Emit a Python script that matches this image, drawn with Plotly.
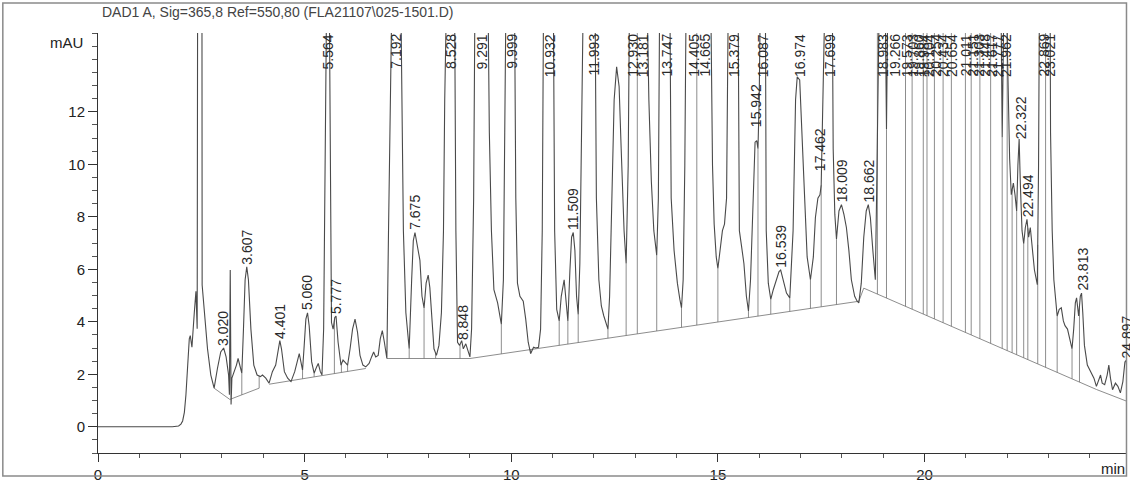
import numpy as np
import plotly.graph_objects as go

# ── Chromatogram values ─────────────────────────────────────────────────────

time_min = [
    0.00, 1.80, 1.95, 2.007, 2.048, 2.09, 2.128, 2.169, 2.209, 2.233,
    2.273, 2.33, 2.37, 2.40, 2.43, 2.475, 2.51, 2.52, 2.57, 2.65,
    2.73, 2.81, 2.89, 2.97, 3.04, 3.10, 3.16, 3.18, 3.20, 3.22,
    3.24, 3.30, 3.35, 3.39, 3.44, 3.48, 3.52, 3.56, 3.60, 3.64,
    3.70, 3.77, 3.85, 3.93, 3.98, 4.06, 4.14, 4.22, 4.30, 4.36,
    4.40, 4.44, 4.51, 4.59, 4.67, 4.76, 4.83, 4.87, 4.91, 4.95,
    4.99, 5.03, 5.07, 5.11, 5.17, 5.23, 5.29, 5.33, 5.38, 5.42,
    5.46, 5.50, 5.54, 5.564, 5.59, 5.62, 5.65, 5.69, 5.73, 5.76,
    5.81, 5.88, 5.93, 5.97, 6.04, 6.10, 6.16, 6.22, 6.28, 6.34,
    6.41, 6.48, 6.56, 6.62, 6.67, 6.72, 6.78, 6.83, 6.88, 6.93,
    6.99, 7.03, 7.06, 7.19, 7.33, 7.35, 7.39, 7.45, 7.53, 7.59,
    7.63, 7.67, 7.73, 7.79, 7.84, 7.89, 7.94, 7.99, 8.03, 8.07,
    8.13, 8.19, 8.25, 8.31, 8.36, 8.39, 8.42, 8.53, 8.63, 8.66,
    8.70, 8.75, 8.80, 8.84, 8.90, 8.94, 9.00, 9.04, 9.09, 9.12,
    9.29, 9.44, 9.47, 9.52, 9.58, 9.67, 9.72, 9.76, 9.81, 9.84,
    9.87, 10.00, 10.08, 10.11, 10.15, 10.21, 10.29, 10.35, 10.41, 10.47,
    10.54, 10.59, 10.66, 10.71, 10.75, 10.78, 10.93, 11.02, 11.05, 11.10,
    11.16, 11.21, 11.28, 11.33, 11.37, 11.42, 11.46, 11.50, 11.54, 11.58,
    11.62, 11.66, 11.70, 11.74, 11.99, 12.03, 12.06, 12.12, 12.18, 12.24,
    12.30, 12.34, 12.38, 12.43, 12.49, 12.55, 12.61, 12.66, 12.73, 12.78,
    12.83, 12.86, 12.93, 13.05, 13.18, 13.29, 13.33, 13.39, 13.45, 13.52,
    13.56, 13.59, 13.75, 13.84, 13.87, 13.94, 14.02, 14.08, 14.12, 14.16,
    14.20, 14.23, 14.40, 14.53, 14.66, 14.83, 14.87, 14.91, 14.96, 15.00,
    15.05, 15.11, 15.16, 15.21, 15.25, 15.38, 15.49, 15.52, 15.57, 15.63,
    15.69, 15.74, 15.79, 15.85, 15.90, 15.94, 15.97, 16.00, 16.03, 16.09,
    16.15, 16.17, 16.22, 16.28, 16.34, 16.42, 16.48, 16.52, 16.58, 16.66,
    16.74, 16.82, 16.88, 16.92, 16.98, 17.04, 17.10, 17.16, 17.24, 17.31,
    17.36, 17.42, 17.47, 17.50, 17.53, 17.70, 17.77, 17.79, 17.83, 17.87,
    17.93, 17.99, 18.05, 18.11, 18.17, 18.23, 18.31, 18.37, 18.41, 18.47,
    18.53, 18.59, 18.64, 18.69, 18.75, 18.81, 18.84, 18.86, 18.98, 19.05,
    19.08, 19.11, 19.20, 21.80, 21.84, 21.88, 21.92, 21.96, 22.01, 22.06,
    22.10, 22.15, 22.19, 22.23, 22.26, 22.29, 22.32, 22.36, 22.40, 22.44,
    22.48, 22.52, 22.56, 22.60, 22.66, 22.73, 22.76, 22.78, 22.87, 22.95,
    23.02, 23.05, 23.09, 23.13, 23.21, 23.26, 23.31, 23.36, 23.40, 23.46,
    23.51, 23.57, 23.61, 23.65, 23.68, 23.71, 23.73, 23.77, 23.80, 23.83,
    23.87, 23.94, 24.02, 24.10, 24.16, 24.22, 24.26, 24.30, 24.36, 24.42,
    24.46, 24.50, 24.55, 24.62, 24.68, 24.74, 24.80, 24.85, 24.88, 24.92,
    24.97,
]

signal_mau = [
    0.00, 0.00, 0.03, 0.10, 0.22, 0.55, 1.22, 2.22, 3.35, 3.47,
    3.03, 4.34, 5.16, 3.73, 40.0, 60.0, 30.0, 5.40, 4.34, 2.97,
    1.97, 1.47, 2.22, 2.85, 3.00, 2.66, 1.97, 1.22, 5.97, 0.85,
    1.85, 2.10, 2.35, 2.60, 2.28, 2.04, 3.72, 5.60, 6.09, 5.60,
    3.72, 2.35, 1.97, 1.91, 1.97, 1.85, 1.66, 2.10, 2.35, 2.97,
    3.28, 2.97, 2.10, 1.85, 1.72, 2.10, 2.60, 2.79, 2.47, 2.16,
    3.10, 4.10, 4.34, 3.85, 2.47, 2.04, 2.28, 2.41, 2.10, 1.97,
    3.72, 9.96, 18.0, 22.0, 18.0, 8.71, 3.97, 3.72, 4.16, 4.22,
    3.22, 2.35, 2.54, 2.47, 2.35, 2.97, 3.72, 4.10, 3.60, 2.72,
    2.35, 2.28, 2.41, 2.66, 2.85, 2.66, 2.72, 3.35, 3.66, 3.22,
    2.60, 7.47, 16.0, 25.0, 16.0, 12.1, 7.47, 4.34, 2.97, 5.60,
    7.09, 7.40, 6.91, 6.34, 4.97, 4.53, 5.47, 5.78, 5.30, 4.22,
    2.97, 2.72, 3.10, 4.34, 7.47, 12.46, 16.0, 25.0, 16.0, 7.47,
    3.22, 3.10, 3.28, 2.97, 3.16, 2.97, 2.66, 3.72, 8.71, 16.0,
    28.0, 16.0, 11.2, 7.47, 5.22, 4.72, 4.22, 3.91, 5.60, 11.2,
    16.0, 25.0, 16.0, 8.71, 5.47, 4.97, 4.78, 4.10, 3.22, 2.79,
    3.03, 3.00, 3.03, 3.72, 7.47, 16.0, 30.0, 16.0, 7.47, 4.47,
    4.03, 4.97, 5.60, 4.72, 4.03, 5.97, 7.22, 7.40, 6.72, 4.97,
    4.28, 6.22, 11.2, 16.0, 25.0, 16.0, 8.71, 5.60, 4.60, 4.22,
    3.91, 3.72, 4.97, 8.71, 12.46, 13.71, 12.96, 10.59, 7.47, 6.22,
    9.96, 16.0, 25.0, 20.0, 25.0, 16.0, 12.46, 9.34, 7.47, 6.53,
    8.71, 16.0, 25.0, 16.0, 8.71, 6.72, 5.47, 4.85, 4.53, 5.60,
    9.96, 16.0, 25.0, 20.0, 25.0, 16.0, 9.96, 7.72, 6.47, 6.03,
    6.72, 7.47, 7.72, 8.71, 16.0, 25.0, 16.0, 7.47, 6.91, 6.22,
    4.97, 4.41, 5.60, 8.71, 10.84, 10.90, 10.59, 12.46, 16.0, 25.0,
    16.0, 7.47, 5.47, 4.85, 5.22, 5.60, 5.91, 5.97, 5.60, 5.09,
    4.91, 7.47, 12.46, 13.33, 13.21, 11.21, 8.71, 6.47, 5.60, 6.47,
    7.97, 8.71, 8.84, 9.20, 16.0, 25.0, 16.0, 10.59, 8.09, 7.15,
    8.22, 8.46, 8.09, 7.59, 6.72, 5.60, 4.97, 4.78, 4.72, 5.47,
    7.22, 8.22, 8.46, 7.97, 6.72, 5.60, 8.71, 16.0, 25.0, 16.0,
    11.34, 16.0, 25.0, 25.0, 16.0, 11.03, 16.0, 20.0, 14.0, 10.21,
    8.84, 9.28, 8.84, 8.22, 9.96, 10.96, 9.21, 7.47, 6.97, 7.59,
    7.90, 7.22, 7.59, 6.97, 5.97, 5.41, 9.96, 16.0, 25.0, 20.0,
    25.0, 11.2, 7.47, 5.60, 4.22, 4.47, 4.53, 4.03, 3.85, 3.72,
    3.35, 2.97, 3.72, 4.72, 4.91, 4.47, 4.22, 4.97, 5.09, 4.34,
    3.10, 2.35, 2.10, 1.85, 1.54, 1.85, 1.97, 1.66, 1.60, 1.97,
    2.35, 1.85, 1.41, 1.66, 1.54, 1.29, 1.72, 2.47, 2.53, 1.72,
    0.97,
]

# integration baselines: start time, start mAU, end time, end mAU
base_t0 = [2.81, 3.19, 4.14, 6.99, 9.00, 18.41, 18.53, 24.16]
base_y0 = [1.47, 1.04, 1.62, 2.60, 2.60, 4.78, 5.28, 1.42]
base_t1 = [3.19, 3.90, 6.48, 9.00, 18.41, 18.53, 24.16, 24.98]
base_y1 = [1.04, 1.47, 2.22, 2.60, 4.78, 5.28, 1.42, 0.92]

# peak split (drop) lines
drop_times = [
    3.48, 3.90, 4.67, 4.95, 5.23, 5.72, 5.89, 6.04, 7.53, 7.89,
    8.17, 8.76, 9.76, 10.47, 11.16, 11.37, 11.62, 12.34, 12.78, 13.05,
    13.52, 14.12, 14.49, 15.00, 15.74, 15.97, 16.28, 16.74, 17.24, 17.50,
    17.87, 18.86, 19.08, 19.54, 19.70, 19.97, 20.06, 20.24, 20.45, 20.65,
    20.99, 21.13, 21.34, 21.60, 21.88, 22.00, 22.12, 22.23, 22.40, 22.50,
    22.74, 22.93, 23.21, 23.57, 23.75,
]

# retention time labels
peak_rt = [
    "3.020", "3.607", "4.401", "5.060", "5.564", "5.777", "7.192", "7.675",
    "8.528", "8.848", "9.291", "9.999", "10.932", "11.509", "11.993",
    "12.930", "13.181", "13.747", "14.405", "14.665", "15.379", "15.942",
    "16.087", "16.539", "16.974", "17.462", "17.699", "18.009", "18.662",
    "18.983", "19.266", "19.573", "19.703", "19.860", "19.984", "20.104",
    "20.254", "20.434", "20.654", "21.011", "21.151", "21.303", "21.448",
    "21.617", "21.777", "21.962", "22.322", "22.494", "22.869", "23.021",
    "23.813", "24.897",
]

Y_TOP = 15
LINE_COL = "#4a4a4a"
THIN_COL = "#707070"

t_arr = np.array(time_min)
s_arr = np.array(signal_mau)


def baseline_at(t):
    for a, ya, b, yb in zip(base_t0, base_y0, base_t1, base_y1):
        if a <= t <= b:
            return ya + (yb - ya) * (t - a) / (b - a)
    return None


# baseline segments and drop lines as single traces
bx, by = [], []
for a, ya, b, yb in zip(base_t0, base_y0, base_t1, base_y1):
    bx += [a, b, None]
    by += [ya, yb, None]
for t in drop_times:
    b = baseline_at(t)
    top = min(float(np.interp(t, t_arr, s_arr)), Y_TOP + 0.5)
    bx += [t, t, None]
    by += [b, top, None]

fig = go.Figure()
fig.add_trace(go.Scatter(x=bx, y=by, mode="lines",
                         line=dict(color=THIN_COL, width=0.8),
                         hoverinfo="skip", showlegend=False))
fig.add_trace(go.Scatter(x=time_min, y=signal_mau, mode="lines",
                         line=dict(color=LINE_COL, width=1.1),
                         showlegend=False))

# rotated RT labels: above apex, or pinned to the top when off-scale
for rt in peak_rt:
    r = float(rt)
    apex = np.interp(np.linspace(r - 0.04, r + 0.04, 17), t_arr, s_arr).max()
    if apex > 13:
        y, anchor = Y_TOP, "top"
    else:
        y, anchor = apex + 0.05, "bottom"
    fig.add_annotation(x=r, y=y, text=rt, showarrow=False, textangle=-90,
                       xanchor="center", yanchor=anchor, borderpad=0,
                       font=dict(size=14, color="#2a2a2a"))

fig.add_annotation(xref="paper", yref="paper", x=0.002, y=1.049,
                   text="DAD1 A, Sig=365,8 Ref=550,80 (FLA21107\\025-1501.D)",
                   showarrow=False, xanchor="left", yanchor="middle",
                   font=dict(size=14, color="#444"))
fig.add_annotation(xref="paper", yref="paper", x=-0.0126, y=0.977, text="mAU",
                   showarrow=False, xanchor="right", yanchor="middle",
                   font=dict(size=15, color="#222"))
fig.add_annotation(xref="paper", yref="paper", x=1.0, y=-0.0375, text="min",
                   showarrow=False, xanchor="right", yanchor="middle",
                   font=dict(size=15, color="#222"))

# outer frame of the printout
fig.add_shape(type="rect", xref="paper", yref="paper",
              x0=-0.0925, x1=0.9995, y0=-0.0545, y1=1.0715,
              line=dict(color="#8a8a8a", width=1.5))

fig.update_xaxes(
    range=[0, 24.9], showline=True, linecolor="#333", linewidth=1,
    showgrid=False, zeroline=False, ticks="outside", ticklen=8,
    tickcolor="#333", tickvals=[0, 5, 10, 15, 20],
    minor=dict(tickvals=list(range(0, 25)), ticks="outside", ticklen=4,
               tickcolor="#555"),
    tickfont=dict(size=15, color="#222"),
)
fig.update_yaxes(
    range=[-1, Y_TOP], showline=True, linecolor="#333", linewidth=1,
    showgrid=False, zeroline=False, ticks="outside", ticklen=9,
    tickcolor="#333", tickvals=[0, 2, 4, 6, 8, 10, 12],
    minor=dict(tickvals=list(np.arange(-1, 15.01, 0.5)), ticks="outside",
               ticklen=5, tickcolor="#555"),
    tickfont=dict(size=15, color="#222"),
)

fig.update_layout(
    width=1130, height=486,
    margin=dict(l=98, r=3, t=33, b=26),
    paper_bgcolor="white", plot_bgcolor="white",
    font=dict(family="Liberation Sans, Arial, sans-serif"),
)

# drop the browser's default 8px body margin so the figure sits at 0,0
fig.write_html("out.html", config={"displayModeBar": False},
               post_script="document.body.style.margin = '0';")
